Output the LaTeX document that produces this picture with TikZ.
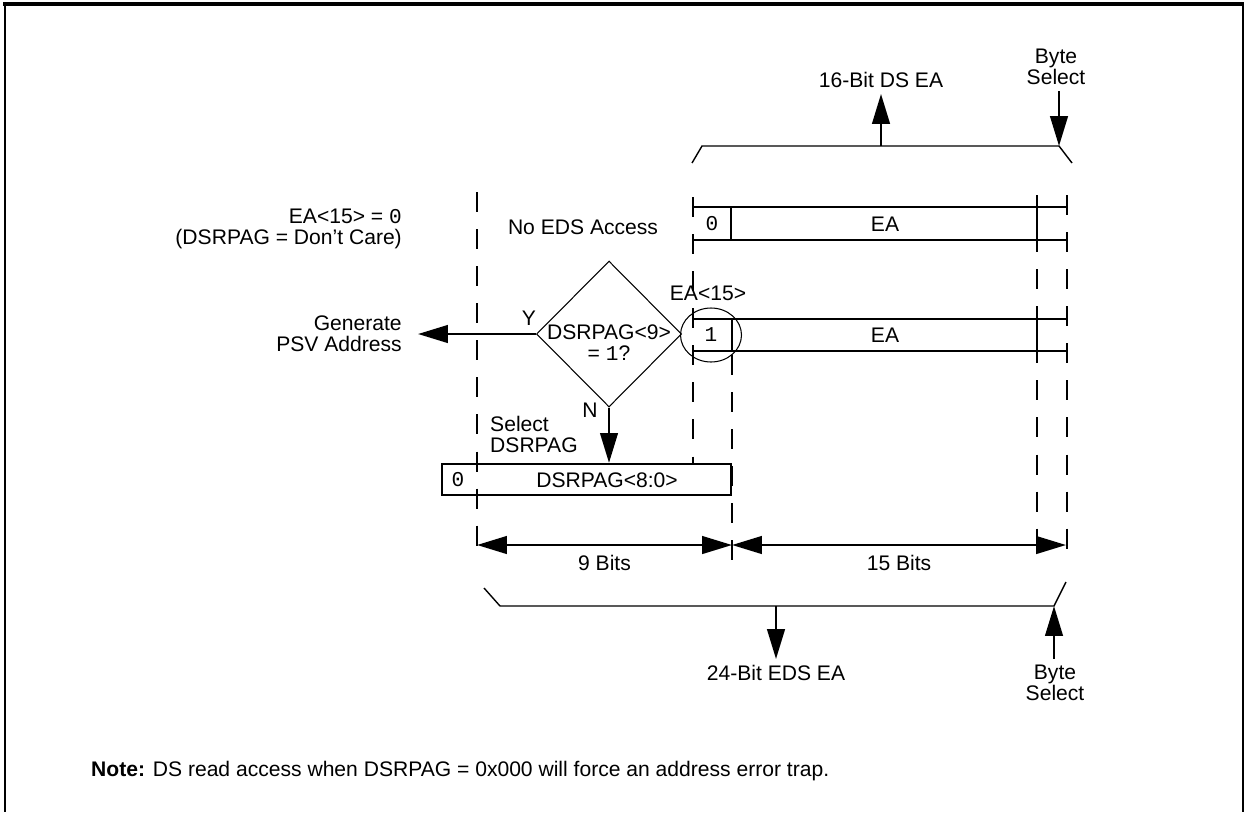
\documentclass[tikz,border=0pt]{standalone}
\usepackage{fontspec}
\setmainfont{Liberation Sans}
\setmonofont{Liberation Mono}
\usetikzlibrary{arrows.meta}
\usetikzlibrary{shapes.geometric}

\begin{document}
\begin{tikzpicture}[x=0.02cm,y=-0.02cm,>={Triangle[length=17pt,width=10pt]},
        every node/.style={font=\fontsize{12}{12}\selectfont,align=center},
        reg/.style={line width=1.3pt},
        guide/.style={line width=1.3pt,dash pattern=on 11.4pt off 9.7pt},
        brack/.style={line width=0.8pt},
        flow/.style={->,line width=1.4pt},
        dim/.style={<->,line width=1.4pt},
        mono/.style={font=\fontsize{12}{12}\ttfamily}]
        \def\regL{693}
        \def\regR{1067}
        \def\msbX{732}
        \def\lsbX{1037}

        \useasboundingbox (0,0) rectangle (1246,812);
        \draw[line width=2.2pt] (3,4) -- (1244,4);
        \draw[line width=1.1pt] (5,4) -- (5,812) (1243,4) -- (1243,812);

        \draw[guide] (477,192) -- (477,562);
        \draw[guide] (\regL,197) -- (\regL,464);
        \draw[guide] (\msbX,355) -- (\msbX,562);
        \draw[guide] (\lsbX,195) -- (\lsbX,548);
        \draw[guide] (\regR,195) -- (\regR,553);

        % 16-bit EA, EA<15> = 0
        \draw[reg] (\regL,207) -- (\regR,207) (\regL,240) -- (\regR,240)
                   (731,207) -- (731,240) (\lsbX,207) -- (\lsbX,240);
        \node[mono] (zero) at (712,224) {0};
        \node (eatop) at (885,224) {EA};

        % 16-bit EA, EA<15> = 1
        \draw[reg] (\regL,319) -- (\regR,319) (\regL,351) -- (\regR,351)
                   (\msbX,319) -- (\msbX,351) (\lsbX,319) -- (\lsbX,351);
        \node[mono,draw,ellipse,line width=0.6pt,minimum width=1.22cm,minimum height=1.08cm,inner sep=0pt] (msb) at (711,335) {1};
        \node (eamid) at (885,335) {EA};
        \node (msblbl) at (708,293) {EA<15>};

        \node[draw,reg,minimum width=5.78cm,minimum height=0.62cm,inner sep=0pt] (pag) at (586.5,479.5) {};
        \node[mono] (pagzero) at (458,480) {0};
        \node (pagtxt) at (607,480) {DSRPAG<8:0>};

        \node[draw,diamond,line width=0.6pt,minimum width=2.9cm,minimum height=2.92cm,inner sep=0pt] (dec) at (609,334) {};
        \node (dectxt) at (609,343) {DSRPAG<9>\\= \texttt{1}?};
        \node (ylbl) at (529,318) {Y};
        \node (nlbl) at (590,410) {N};

        \node[anchor=east,align=right] (cond) at (408,229) {EA<15> = \texttt{0}\\(DSRPAG = Don't Care)};
        \node (noeds) at (583,227) {No EDS Access};
        \node[anchor=east,align=right,inner xsep=0.32cm] (psv) at (418,334) {Generate\\PSV Address};
        \node[anchor=west,align=left] (selpag) at (484,434) {Select\\DSRPAG};

        \draw[flow] (dec.west) -- (dec.west -| psv.east);
        \draw[flow] (dec.south) -- (dec.south |- pag.north);

        % 16-bit side
        \coordinate (ubl) at (702,146);
        \coordinate (ubr) at (1059,146);
        \draw[brack] (692,163) -- (ubl) -- (ubr) -- (1072,163);
        \node (ds16) at (881,80) {16-Bit DS EA};
        \node (bsel1) at (1056,67) {Byte\\Select};
        \draw[flow] (ubl -| ds16) -- (ds16);
        \draw[flow] (ubr |- bsel1.south) -- (ubr);

        % 24-bit side
        \coordinate (b0) at (477,545);
        \coordinate (b9) at (732,545);
        \coordinate (b24) at (1066,545);
        \draw[dim] (b0) -- (b9) node[midway,below=2pt] (nine) {9 Bits};
        \draw[dim] (b9) -- (b24) node[midway,below=2pt] (fifteen) {15 Bits};

        \coordinate (lbl) at (500,606);
        \coordinate (lbr) at (1054,606);
        \draw[brack] (484,588) -- (lbl) -- (lbr) -- (1066,582);
        \node (eds24) at (776,673) {24-Bit EDS EA};
        \node (bsel2) at (1055,683) {Byte\\Select};
        \draw[flow] (lbl -| eds24) -- (eds24);
        \draw[flow] (lbr |- bsel2.north) -- (lbr);

        \node[anchor=west] (note) at (85,771) {\textbf{Note:} DS read access when DSRPAG = 0x000 will force an address error trap.};
    \end{tikzpicture}
\end{document}
